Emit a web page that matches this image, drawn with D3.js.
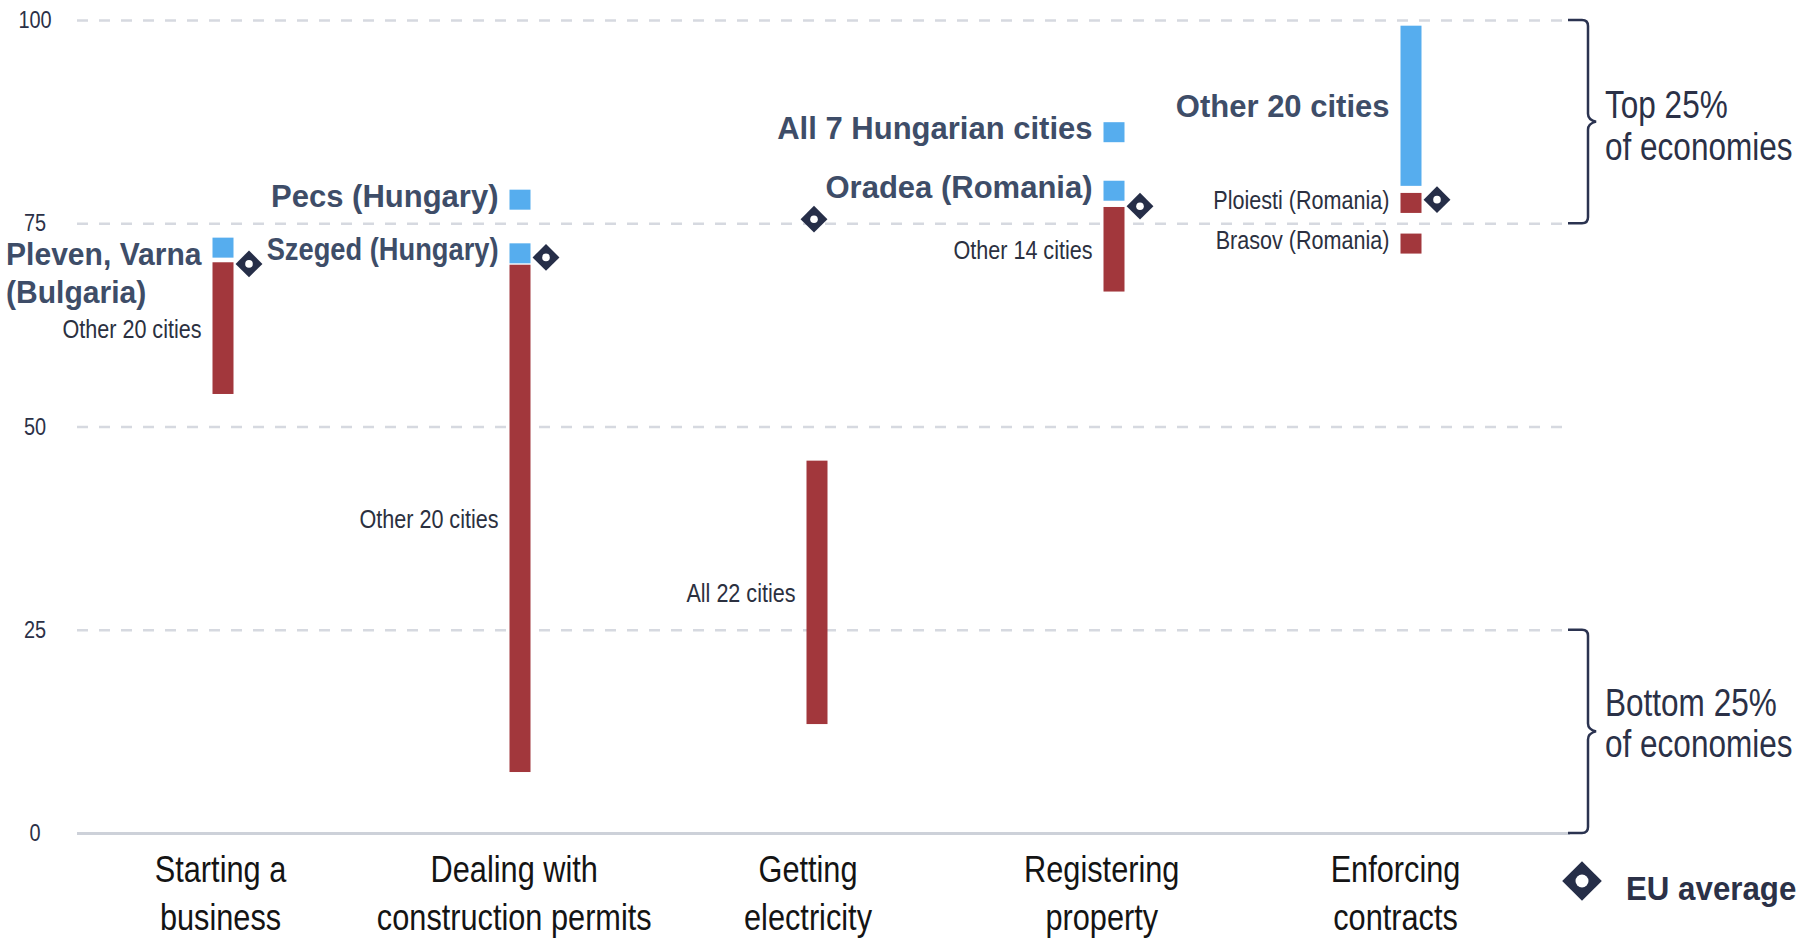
<!DOCTYPE html>
<html>
<head>
<meta charset="utf-8">
<script src="https://cdn.jsdelivr.net/npm/d3@7"></script>
<style>
  body { margin: 0; background: #fff; }
  svg { display: block; }
</style>
</head>
<body>
<svg></svg>
<script>
// categories and tick values
let categories = ['Starting a business', 'Dealing with construction permits', 'Getting electricity', 'Registering property', 'Enforcing contracts']
let categoryLines = [['Starting a', 'business'], ['Dealing with', 'construction permits'], ['Getting', 'electricity'], ['Registering', 'property'], ['Enforcing', 'contracts']]
let yTicks = [0, 25, 50, 75, 100]

// EU average per category
let euAverage = [70.0, 70.8, 75.5, 77.1, 77.9]

// ranges covering a group of cities
let rangeCategory = [0, 1, 2, 3, 4]
let rangeLow = [54.0, 7.5, 13.4, 66.6, 79.6]
let rangeHigh = [70.2, 69.9, 45.8, 77.0, 99.3]
let rangeLabel = ['Other 20 cities', 'Other 20 cities', 'All 22 cities', 'Other 14 cities', 'Other 20 cities']
let rangeGroup = ['low', 'low', 'low', 'low', 'high']

// single cities
let cityCategory = [0, 1, 1, 3, 3, 4, 4]
let cityValue = [72.0, 77.9, 71.3, 86.2, 79.0, 77.5, 72.5]
let cityLabel = [['Pleven, Varna', '(Bulgaria)'], ['Pecs (Hungary)'], ['Szeged (Hungary)'], ['All 7 Hungarian cities'], ['Oradea (Romania)'], ['Ploiesti (Romania)'], ['Brasov (Romania)']]
let cityGroup = ['high', 'high', 'high', 'high', 'high', 'low', 'low']

let width = 1812
let height = 938
let gridLeft = 77
let gridRight = 1570
let barWidth = 21

// no condensed face is installed, so regular text is squeezed horizontally
let sans = '"Liberation Sans", Arial, sans-serif'
let narrowScale = 0.83
let navy = '#262e48'
let textNavy = '#2b3147'
let colors = { high: '#56adee', low: '#a2373c' }
// a couple of pasted labels in the original are narrower than the rest
let squeezeLabel = { 'Szeged (Hungary)': 0.88, 'Pleven, Varna': 0.97 }

let svg = d3.select('svg')
    .attr('width', width)
    .attr('height', height)

let xScale = d3.scalePoint()
    .domain(categories)
    .range([223, 1411])

// category names sit a little left of the bars towards the right
let labelScale = d3.scalePoint()
    .domain(categories)
    .range([220, 1395])

let yScale = d3.scaleLinear()
    .domain([0, 100])
    .range([833, 20])

// grid lines
let grid = svg.append('g')
    .attr('transform', 'translate(' + gridLeft + ',0)')
    .call(d3.axisLeft(yScale).tickValues(yTicks).tickSize(-(gridRight - gridLeft)).tickFormat(''))
grid.select('.domain').remove()
grid.selectAll('line')
    .attr('stroke-dasharray', (d) => d == 0 ? null : '11,11')
    .attr('stroke', (d) => d == 0 ? '#cdd1d9' : '#d6d9e0')
    .attr('stroke-width', (d) => d == 0 ? 3 : 2.5)

// y axis labels
let yAxis = svg.append('g')
    .call(d3.axisLeft(yScale).tickValues(yTicks).tickSize(0))
yAxis.select('.domain').remove()
yAxis.selectAll('text')
    .attr('x', null)
    .attr('transform', 'translate(35,0) scale(' + narrowScale + ',1)')
    .attr('text-anchor', 'middle')
    .attr('font-family', sans)
    .attr('font-size', 24)
    .attr('fill', textNavy)

// x axis labels
let xAxis = svg.append('g')
    .attr('transform', 'translate(0,' + yScale(0) + ')')
    .call(d3.axisBottom(labelScale).tickSize(0))
xAxis.select('.domain').remove()
xAxis.selectAll('text').remove()
xAxis.selectAll('.tick')
    .append('text')
    .attr('transform', 'scale(' + narrowScale + ',1)')
    .attr('text-anchor', 'middle')
    .attr('font-family', sans)
    .attr('font-size', 37)
    .attr('fill', '#141414')
    .selectAll('tspan')
    .data((d) => categoryLines[categories.indexOf(d)])
    .enter()
    .append('tspan')
    .attr('x', 0)
    .attr('y', (d, i) => 49 + i * 48)
    .text((d) => d)

let ranges = rangeCategory.map((c, i) => ({ cat: categories[c], low: rangeLow[i], high: rangeHigh[i], label: [rangeLabel[i]], group: rangeGroup[i], single: false }))
let cities = cityCategory.map((c, i) => ({ cat: categories[c], value: cityValue[i], label: cityLabel[i], group: cityGroup[i], single: true }))

// range bars
svg.selectAll('.range')
    .data(ranges)
    .enter()
    .append('rect')
    .attr('class', 'range')
    .attr('x', (d) => xScale(d.cat) - barWidth / 2)
    .attr('y', (d) => yScale(d.high))
    .attr('width', barWidth)
    .attr('height', (d) => yScale(d.low) - yScale(d.high))
    .attr('fill', (d) => colors[d.group])

// single city squares
svg.selectAll('.city')
    .data(cities)
    .enter()
    .append('rect')
    .attr('class', 'city')
    .attr('x', (d) => xScale(d.cat) - barWidth / 2)
    .attr('y', (d) => yScale(d.value) - 10)
    .attr('width', barWidth)
    .attr('height', 20)
    .attr('fill', (d) => colors[d.group])

// labels left of each mark
let labelY = (d) => {
    if (!d.single) return yScale((d.low + d.high) / 2)
    return yScale(d.value) - 4 + (d.label.length > 1 ? 10 : 0)
}

let labels = svg.selectAll('.label')
    .data(ranges.concat(cities))
    .enter()
    .append('g')
    .attr('class', 'label')
    .attr('transform', (d) => 'translate(' + (xScale(d.cat) - barWidth / 2 - 11) + ',' + labelY(d) + ')')
    .append('text')
    .attr('transform', (d) => {
        let s = d.group == 'high' ? 1 : narrowScale
        if (squeezeLabel[d.label[0]]) s = squeezeLabel[d.label[0]]
        return 'scale(' + s + ',1)'
    })
    .attr('text-anchor', 'end')
    .attr('dominant-baseline', 'central')
    .attr('font-family', sans)
    .attr('font-weight', (d) => d.group == 'high' ? 'bold' : 'normal')
    .attr('font-size', (d) => d.group == 'high' ? 31 : 26)
    .attr('fill', (d) => d.group == 'high' ? '#3e4d68' : '#2b3040')

labels.selectAll('tspan')
    .data((d) => d.label)
    .enter()
    .append('tspan')
    .attr('x', 0)
    .attr('y', (t, i) => i * 38)
    .text((t) => t)

// multi-line labels are left aligned as a block
labels.each(function (d) {
    if (d.label.length < 2) return
    let t = d3.select(this)
    let w = d3.max(t.selectAll('tspan').nodes(), (n) => n.getComputedTextLength())
    t.attr('text-anchor', 'start').selectAll('tspan').attr('x', -w)
})

// EU average diamonds, moved to the side if a mark sits at the same height
let diamond = (g, side, r) => {
    g.append('rect')
        .attr('x', -side / 2)
        .attr('y', -side / 2)
        .attr('width', side)
        .attr('height', side)
        .attr('transform', 'rotate(45)')
        .attr('fill', navy)
    g.append('circle')
        .attr('r', r)
        .attr('fill', '#fff')
}

euAverage.forEach((v, i) => {
    let busy = ranges.some((d) => d.cat == categories[i] && v >= d.low - 3 && v <= d.high + 3) ||
        cities.some((d) => d.cat == categories[i] && Math.abs(d.value - v) < 4)
    let g = svg.append('g')
        .attr('transform', 'translate(' + (xScale(categories[i]) + (busy ? 26 : -3)) + ',' + yScale(v) + ')')
    diamond(g, 19, 3.8)
})

// braces for top / bottom 25%
let brace = (y0, y1) => {
    let x = 1588
    let ym = (y0 + y1) / 2
    return 'M' + (x - 20) + ',' + y0 + ' L' + (x - 6) + ',' + y0 + ' Q' + x + ',' + y0 + ' ' + x + ',' + (y0 + 6) +
        ' L' + x + ',' + (ym - 8) + ' Q' + x + ',' + (ym - 2) + ' ' + (x + 8) + ',' + ym +
        ' Q' + x + ',' + (ym + 2) + ' ' + x + ',' + (ym + 8) +
        ' L' + x + ',' + (y1 - 6) + ' Q' + x + ',' + y1 + ' ' + (x - 6) + ',' + y1 + ' L' + (x - 20) + ',' + y1
}

let bands = [
    { from: 100, to: 75, lines: ['Top 25%', 'of economies'], first: 118, gap: 42 },
    { from: 25, to: 0, lines: ['Bottom 25%', 'of economies'], first: 716, gap: 41 }
]

bands.forEach((b) => {
    svg.append('path')
        .attr('d', brace(yScale(b.from), yScale(b.to)))
        .attr('fill', 'none')
        .attr('stroke', '#2b3350')
        .attr('stroke-width', 2.5)
    b.lines.forEach((line, i) => {
        svg.append('text')
            .attr('transform', 'translate(1605,' + (b.first + i * b.gap) + ') scale(' + narrowScale + ',1)')
            .attr('font-family', sans)
            .attr('font-size', 38)
            .attr('fill', textNavy)
            .text(line)
    })
})

// legend
let legend = svg.append('g')
    .attr('transform', 'translate(1582,881)')
diamond(legend, 28, 6.5)
svg.append('text')
    .attr('transform', 'translate(1626,900) scale(0.92,1)')
    .attr('font-family', sans)
    .attr('font-weight', 'bold')
    .attr('font-size', 34)
    .attr('fill', textNavy)
    .text('EU average')
</script>
</body>
</html>
